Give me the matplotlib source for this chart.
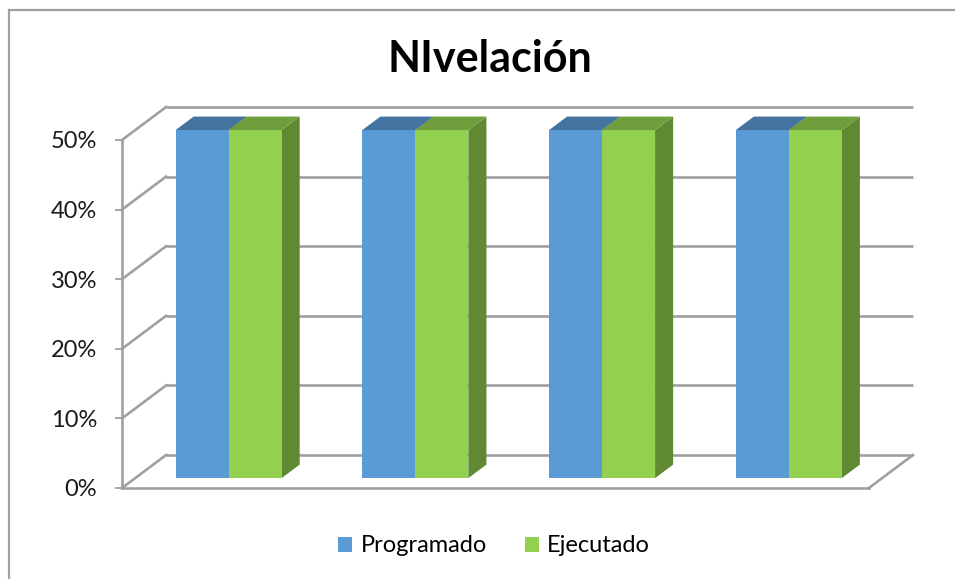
import matplotlib
matplotlib.use("Agg")
import matplotlib.pyplot as plt
from matplotlib.patches import Polygon, Patch
from matplotlib.lines import Line2D

plt.rcParams['font.family'] = ['Lato', 'DejaVu Sans']

# data
categories = ['', '', '', '']
programado = [50, 50, 50, 50]
ejecutado = [50, 50, 50, 50]
series_names = ['Programado', 'Ejecutado']
yticks = [0, 10, 20, 30, 40, 50]
ytick_labels = ['0%', '10%', '20%', '30%', '40%', '50%']

# colours: front, top, side
colors = [('#5b9bd5', '#44739f', '#3e6a93'),
          ('#92d050', '#6f9f3c', '#5f8a31')]
grid_color = '#a0a0a0'

# depth offset of the 3d box, in data units
DX = 0.236
DY = 4.74
Z0, Z1 = 0.30, 0.71
BW = 0.284

W, H = 955, 579
fig = plt.figure(figsize=(W / 100, H / 100), dpi=100)
ax = fig.add_axes([122 / W, (H - 488) / H, (913 - 122) / W, (488 - 107) / H])
n = len(categories)
ax.set_xlim(-0.5, n - 0.5 + DX)
ax.set_ylim(0, 50 + DY)
for s in ax.spines.values():
    s.set_visible(False)
ax.set_xticks([])
ax.set_yticks(yticks)
ax.set_yticklabels(ytick_labels, fontsize=17, color='#1a1a1a')
ax.tick_params(axis='y', length=5, width=1.3, color=grid_color, pad=13)

# walls and floor
lw = 1.9
for v in yticks:
    ax.plot([-0.5 + DX, n - 0.5 + DX], [v + DY, v + DY], color=grid_color, lw=lw,
            zorder=1, solid_capstyle='butt', clip_on=False)
    ax.plot([-0.5, -0.5 + DX], [v, v + DY], color=grid_color, lw=lw, zorder=1, clip_on=False)
ax.plot([-0.5, -0.5], [0, 50], color=grid_color, lw=lw, zorder=1, clip_on=False)
ax.plot([-0.5, n - 0.5], [0, 0], color=grid_color, lw=lw, zorder=1, clip_on=False)
ax.plot([n - 0.5, n - 0.5 + DX], [0, DY], color=grid_color, lw=lw, zorder=1, clip_on=False)

# 3d bars
values = [programado, ejecutado]
z = 2
for i in range(n):
    for j, vals in enumerate(values):
        v = vals[i]
        x0 = i - BW + j * BW + Z0 * DX
        x1 = x0 + BW
        y0 = Z0 * DY
        y1 = v + Z0 * DY
        ddx = (Z1 - Z0) * DX
        ddy = (Z1 - Z0) * DY
        front, top, side = colors[j]
        ax.add_patch(Polygon([(x1, y0), (x1 + ddx, y0 + ddy), (x1 + ddx, y1 + ddy), (x1, y1)],
                             closed=True, fc=side, ec='none', zorder=z))
        ax.add_patch(Polygon([(x0, y0), (x1, y0), (x1, y1), (x0, y1)],
                             closed=True, fc=front, ec='none', zorder=z + 1))
        ax.add_patch(Polygon([(x0, y1), (x1, y1), (x1 + ddx, y1 + ddy), (x0 + ddx, y1 + ddy)],
                             closed=True, fc=top, ec='none', zorder=z + 1))
        z += 2

fig.text(490 / W, 1 - 59 / H, 'NIvelación', ha='center', va='center',
         fontsize=31, fontweight='bold', color='#000000')

handles = [Patch(fc=colors[k][0], ec='none') for k in range(2)]
fig.legend(handles, series_names, loc='center', bbox_to_anchor=(494 / W, 1 - 546 / H),
           ncol=2, frameon=False, fontsize=17, handlelength=0.6, handleheight=0.6,
           handletextpad=0.35, columnspacing=1.6)

# chart area border
fig.add_artist(Line2D([9 / W, 9 / W], [0, 1 - 10 / H], color=grid_color, lw=1.6))
fig.add_artist(Line2D([9 / W, 1], [1 - 10 / H, 1 - 10 / H], color=grid_color, lw=1.6))

fig.savefig('out.png', dpi=100)
